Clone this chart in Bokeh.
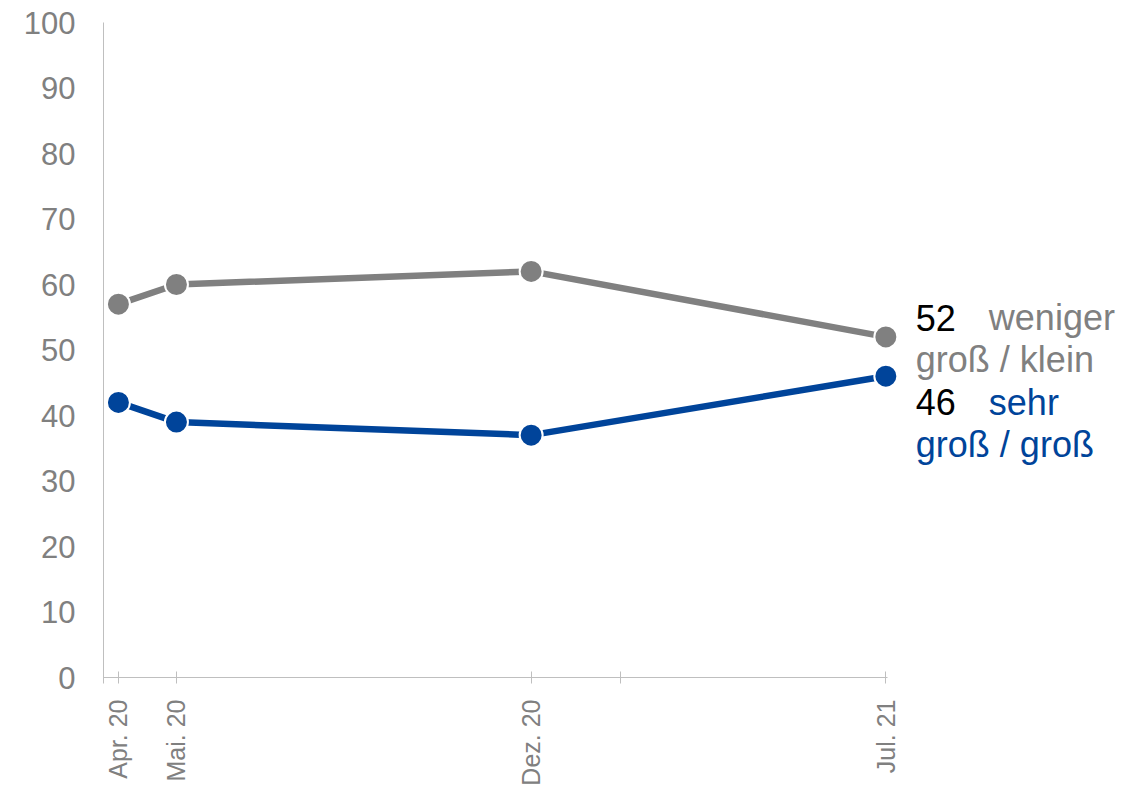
import pandas as pd
from bokeh.plotting import figure
from bokeh.models import Range1d, FixedTicker, Label, ColumnDataSource
from bokeh.embed import file_html
from bokeh.resources import INLINE
import math

# ---- data ----
survey_dates = ["2020-04-05", "2020-05-10", "2020-12-10", "2021-07-12"]
tick_labels = ["Apr. 20", "Mai. 20", "Dez. 20", "Jul. 21"]
weniger_gross_klein = [57, 60, 62, 52]
sehr_gross_gross = [42, 39, 37, 46]
series_names = ["weniger\ngroß / klein", "sehr\ngroß / groß"]

GRAY = "#808080"
BLUE = "#00449A"
AXIS = "#BFBFBF"
FONT = "Liberation Sans"

base = pd.Timestamp("2020-03-27")
xs = [(pd.Timestamp(d) - base).days for d in survey_dates]
extra_tick = (pd.Timestamp("2021-02-02") - base).days
axis_end = xs[-1] + 1

FRAME_W = 1037
AXIS_W = 784  # pixel length of the x axis line
p = figure(frame_width=FRAME_W, frame_height=655,
           min_border_left=103, min_border_right=8,
           min_border_top=22, min_border_bottom=116,
           output_backend="svg", toolbar_location=None,
           x_range=Range1d(0, axis_end * FRAME_W / AXIS_W), y_range=Range1d(0, 100))
p.outline_line_color = None
p.xgrid.grid_line_color = None
p.ygrid.grid_line_color = None
p.background_fill_color = "white"
p.border_fill_color = "white"

# y axis
ya = p.yaxis[0]
ya.ticker = FixedTicker(ticks=list(range(0, 101, 10)))
ya.axis_line_color = AXIS
ya.axis_line_width = 1
ya.major_tick_line_color = None
ya.major_tick_in = 0
ya.major_tick_out = 0
ya.minor_tick_line_color = None
ya.major_label_standoff = 28
ya.major_label_text_font = FONT
ya.major_label_text_font_size = "31px"
ya.major_label_text_color = GRAY

# x axis
xa = p.xaxis[0]
xa.bounds = (0, axis_end)
xa.ticker = FixedTicker(ticks=[0] + xs + [extra_tick])
overrides = {float(x): lab for x, lab in zip(xs, tick_labels)}
overrides.update({0.0: "", float(extra_tick): ""})
xa.major_label_overrides = overrides
xa.axis_line_color = AXIS
xa.axis_line_width = 1
xa.major_tick_line_color = AXIS
xa.major_tick_in = 6
xa.major_tick_out = 6
xa.minor_tick_line_color = None
xa.major_label_orientation = math.pi / 2
xa.major_label_standoff = 16
xa.major_label_text_font = FONT
xa.major_label_text_font_size = "25px"
xa.major_label_text_color = GRAY

src = ColumnDataSource(dict(x=xs, g=weniger_gross_klein, b=sehr_gross_gross))
p.line("x", "g", source=src, line_color=GRAY, line_width=6.5)
p.scatter("x", "g", source=src, size=23, fill_color=GRAY, line_color="white", line_width=2)
p.line("x", "b", source=src, line_color=BLUE, line_width=6.5)
p.scatter("x", "b", source=src, size=23, fill_color=BLUE, line_color="white", line_width=2)

def lab(text, y, xo, yo, color):
    p.add_layout(Label(x=xs[-1], y=y, text=text, x_offset=xo, y_offset=yo,
                       text_font=FONT, text_font_size="36px", text_color=color,
                       text_baseline="alphabetic", text_align="left"))

g_first, g_second = series_names[0].split("\n")
b_first, b_second = series_names[1].split("\n")
lab(str(weniger_gross_klein[-1]), weniger_gross_klein[-1], 30, 19, "black")
lab(g_first, weniger_gross_klein[-1], 103, 19, GRAY)
lab(g_second, weniger_gross_klein[-1], 30, -23, GRAY)
lab(str(sehr_gross_gross[-1]), sehr_gross_gross[-1], 30, -26, "black")
lab(b_first, sehr_gross_gross[-1], 103, -26, BLUE)
lab(b_second, sehr_gross_gross[-1], 30, -68, BLUE)

open("out.html", "w").write(file_html(p, INLINE))
